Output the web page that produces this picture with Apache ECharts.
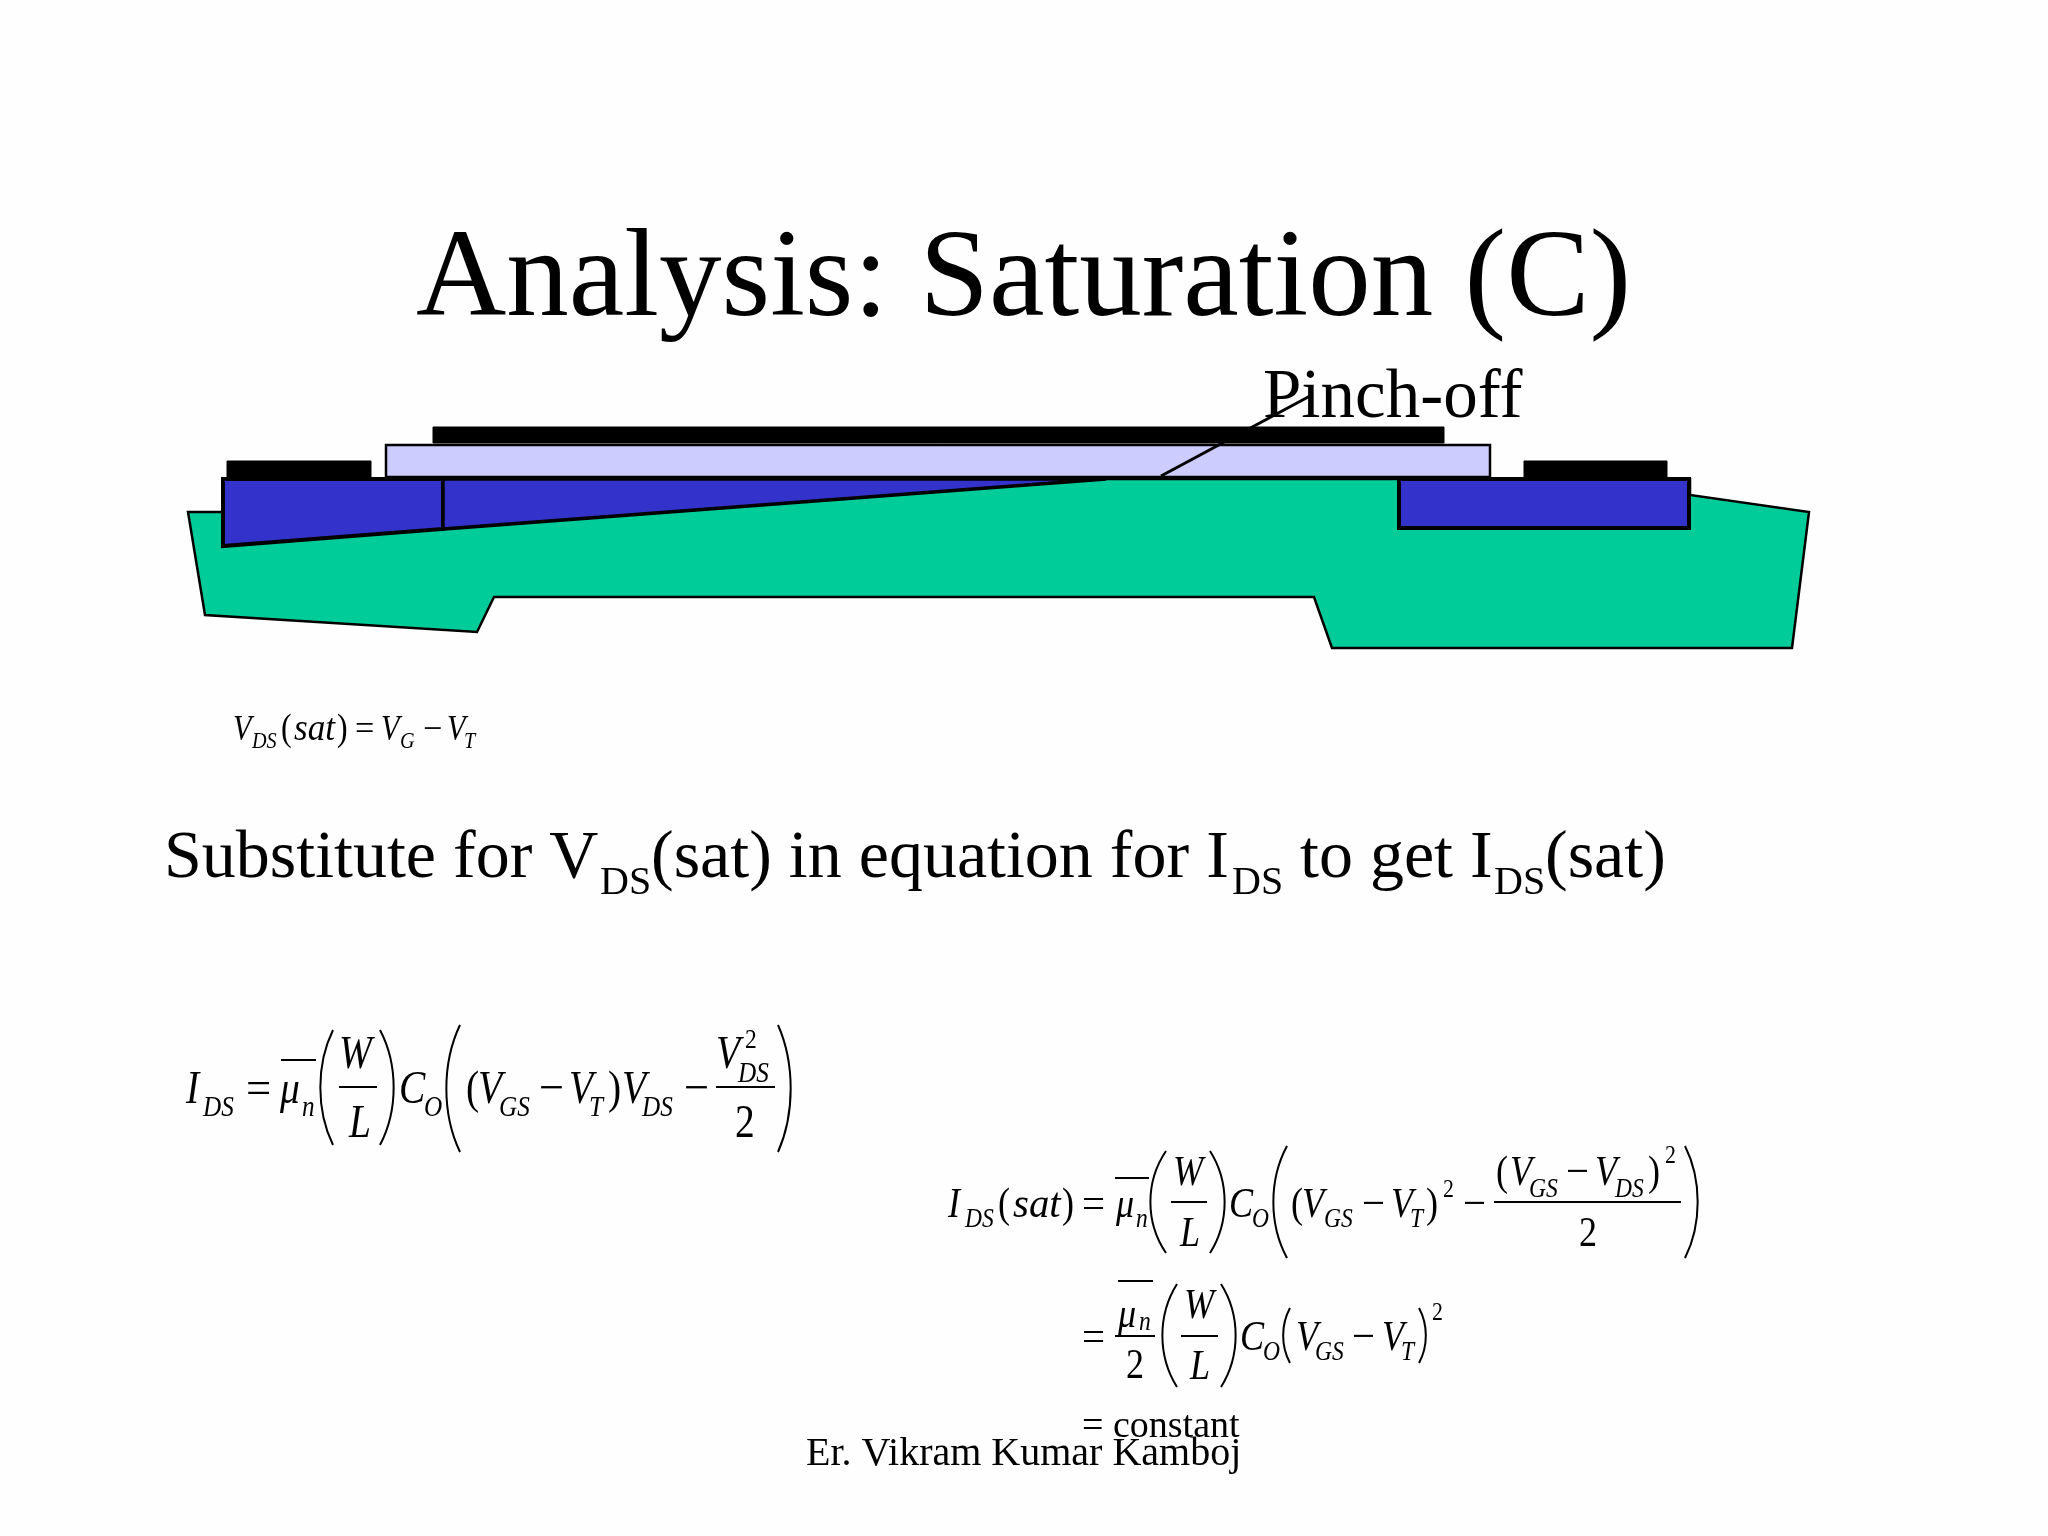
<!DOCTYPE html>
<html lang="en">
<head>
<meta charset="UTF-8">
<title>Analysis: Saturation (C)</title>
<style>
    * { margin: 0; padding: 0; }
    html, body { background: #fefefe; }
    #main { width: 2048px; height: 1536px; }
</style>
</head>
<body>
<div id="main"></div>
<script src="https://cdn.jsdelivr.net/npm/echarts@6/dist/echarts.min.js"></script>
<script>
// diagram outlines (axes run in picture pixels)
var substrate = [[188,512],[205,615],[477,632],[494,597],[1314,597],[1332,648],[1792,648],[1809,512],[1690,495],[1690,479],[443,479],[223,512]];
var sourceWell = [[223,479],[443,479],[443,529],[223,546]];
var channel = [[443,479],[1106,479],[443,529]];
var drainWell = [[1399,479],[1689,479],[1689,528],[1399,528]];
var oxide = [[386,445],[1490,445],[1490,477],[386,477]];
var gate = [[433,427],[1444,427],[1444,443],[433,443]];
var sourceContact = [[227,461],[371,461],[371,478],[227,478]];
var drainContact = [[1524,461],[1667,461],[1667,478],[1524,478]];
var pinchLeader = [[1161,476],[1310,396]];

// fraction bars and overlines: [x0, x1, y]
var rules = [
    [281,316,1060],[339,377,1087],[716,775,1087],
    [1115,1149,1178],[1171,1207,1202],[1494,1681,1202],
    [1118,1153,1281],[1115,1155,1336],[1181,1218,1336]
];
// brackets: [tipX, bellyX, y0, y1]
var brackets = [
    [333,320,1030,1145],[380,394,1030,1145],[460,446,1025,1152],[778,791,1025,1152],
    [1166,1150,1151,1253],[1210,1225,1151,1253],[1287,1273,1146,1258],[1685,1698,1146,1258],
    [1177,1162,1284,1387],[1221,1236,1284,1387],[1290,1283,1308,1363],[1419,1426,1308,1363]
];

// text runs: [string, x, baseline, size, italic, squeeze]
var EQ = 0.84, OP = 0.95;
var slideText = [
    ["Analysis: Saturation (C)",416,315,125,0,1],
    ["Pinch-off",1263,417,69,0,1],
    ["Substitute for V",164,877,68,0,1],["DS",600,894,40,0,1],
    ["(sat) in equation for I",651,877,68,0,1],["DS",1232,894,40,0,1],
    [" to get I",1283,877,68,0,1],["DS",1494,894,40,0,1],["(sat)",1545,877,68,0,1],
    ["= constant",1082,1437,38,0,1],
    ["Er. Vikram Kumar Kamboj",806,1465,40,0,1]
];
var formulaSat = [
    ["V",233,740,36,1,EQ],["DS",252,748,24,1,EQ],["(",281,740,38,0,EQ],["sat",294,740,37,1,0.95],[")",337,740,38,0,EQ],
    ["=",355,740,36,0,OP],["V",381,740,36,1,EQ],["G",400,748,24,1,EQ],["\u2212",423,740,36,0,OP],["V",447,740,36,1,EQ],["T",464,748,24,1,EQ]
];
var formulaIds = [
    ["I",186,1103,47,1,EQ],["DS",203,1116,30,1,EQ],["=",246,1103,47,0,OP],["\u03bc",280,1103,47,1,EQ],["n",302,1116,30,1,EQ],
    ["W",339,1068,47,1,EQ],["L",349,1137,47,1,EQ],["C",399,1103,47,1,EQ],["O",424,1116,30,1,EQ],
    ["(",466,1103,47,0,EQ],["V",478,1103,47,1,EQ],["GS",499,1116,30,1,EQ],["\u2212",539,1103,47,0,OP],
    ["V",569,1103,47,1,EQ],["T",589,1116,30,1,EQ],[")",608,1103,47,0,EQ],["V",622,1103,47,1,EQ],["DS",642,1116,30,1,EQ],["\u2212",684,1103,47,0,OP],
    ["V",716,1068,47,1,EQ],["2",745,1048,28,0,EQ],["DS",738,1082,30,1,EQ],["2",735,1137,47,0,EQ]
];
var formulaIdsSat = [
    ["I",948,1217,43,1,EQ],["DS",965,1227,28,1,EQ],["(",998,1217,43,0,EQ],["sat",1013,1217,43,1,0.95],[")",1062,1217,43,0,EQ],
    ["=",1082,1217,43,0,OP],["\u03bc",1116,1217,43,1,EQ],["n",1136,1227,28,1,EQ],
    ["W",1173,1185,43,1,EQ],["L",1180,1246,43,1,EQ],["C",1229,1217,43,1,EQ],["O",1252,1227,28,1,EQ],
    ["(",1291,1217,43,0,EQ],["V",1302,1217,43,1,EQ],["GS",1324,1227,28,1,EQ],["\u2212",1362,1217,43,0,OP],
    ["V",1391,1217,43,1,EQ],["T",1410,1227,28,1,EQ],[")",1426,1217,43,0,EQ],["2",1443,1197,26,0,EQ],["\u2212",1463,1217,43,0,OP],
    ["(",1496,1185,43,0,EQ],["V",1510,1185,43,1,EQ],["GS",1529,1197,28,1,EQ],["\u2212",1566,1185,43,0,OP],
    ["V",1595,1185,43,1,EQ],["DS",1615,1197,28,1,EQ],[")",1648,1185,43,0,EQ],["2",1665,1163,26,0,EQ],["2",1579,1246,43,0,EQ]
];
var formulaIdsSat2 = [
    ["=",1082,1350,43,0,OP],["\u03bc",1118,1327,43,1,EQ],["n",1139,1330,28,1,EQ],["2",1126,1378,43,0,EQ],
    ["W",1184,1318,43,1,EQ],["L",1190,1379,43,1,EQ],["C",1240,1350,43,1,EQ],["O",1263,1360,28,1,EQ],
    ["V",1296,1350,43,1,EQ],["GS",1315,1360,28,1,EQ],["\u2212",1352,1350,43,0,OP],["V",1382,1350,43,1,EQ],["T",1401,1360,28,1,EQ],["2",1432,1320,26,0,EQ]
];
var allText = slideText.concat(formulaSat, formulaIds, formulaIdsSat, formulaIdsSat2);

var GREEN = '#00cc99', BLUE = '#3333cc', LILAC = '#ccccff', INK = '#000000';

// one closed outline drawn through the hidden axes
function outline(points, fill, lineWidth) {
    return {
        type: 'custom',
        coordinateSystem: 'cartesian2d',
        data: points,
        silent: true,
        animation: false,
        renderItem: function (params, api) {
            if (params.dataIndex !== 0) return;
            return {
                type: 'polygon',
                shape: { points: points.map(function (p) { return api.coord(p); }) },
                style: { fill: fill, stroke: INK, lineWidth: lineWidth, lineJoin: 'miter' }
            };
        }
    };
}

var ruleSeries = {
    type: 'custom',
    coordinateSystem: 'cartesian2d',
    data: rules,
    encode: { x: [0, 1], y: 2 },
    silent: true,
    animation: false,
    renderItem: function (params, api) {
        var a = api.coord([api.value(0), api.value(2)]);
        var b = api.coord([api.value(1), api.value(2)]);
        return {
            type: 'line',
            shape: { x1: a[0], y1: a[1], x2: b[0], y2: b[1] },
            style: { stroke: INK, lineWidth: 1.8 }
        };
    }
};

var bracketSeries = {
    type: 'custom',
    coordinateSystem: 'cartesian2d',
    data: brackets,
    encode: { x: [0, 1], y: [2, 3] },
    silent: true,
    animation: false,
    renderItem: function (params, api) {
        var tip = api.value(0), belly = api.value(1), y0 = api.value(2), y1 = api.value(3);
        var h = y1 - y0;
        var s = api.coord([tip, y0]);
        var e = api.coord([tip, y1]);
        var c1 = api.coord([belly - (tip - belly) * 0.3, y0 + h * 0.3]);
        var c2 = api.coord([belly - (tip - belly) * 0.3, y0 + h * 0.7]);
        return {
            type: 'bezierCurve',
            shape: { x1: s[0], y1: s[1], x2: e[0], y2: e[1], cpx1: c1[0], cpy1: c1[1], cpx2: c2[0], cpy2: c2[1] },
            style: { fill: null, stroke: INK, lineWidth: 2 }
        };
    }
};

var textSeries = {
    type: 'custom',
    coordinateSystem: 'cartesian2d',
    data: allText.map(function (t, i) { return [t[1], t[2], i]; }),
    silent: true,
    animation: false,
    renderItem: function (params, api) {
        var t = allText[api.value(2)];
        var size = t[3];
        // text is placed by its middle, the list holds baselines
        var p = api.coord([t[1], t[2] - size * 0.265]);
        return {
            type: 'text',
            x: p[0],
            y: p[1],
            scaleX: t[5],
            style: {
                x: 0,
                y: 0,
                text: t[0],
                fill: INK,
                font: (t[4] ? 'italic ' : '') + size + 'px "Liberation Serif"',
                align: 'left',
                verticalAlign: 'middle'
            }
        };
    }
};

var leaderSeries = {
    type: 'line',
    data: pinchLeader,
    symbol: 'none',
    silent: true,
    animation: false,
    lineStyle: { color: INK, width: 3 }
};

var chart = echarts.init(document.getElementById('main'));
chart.setOption({
    backgroundColor: '#fefefe',
    animation: false,
    grid: { left: 0, right: 0, top: 0, bottom: 0 },
    xAxis: { type: 'value', min: 0, max: 2048, show: false },
    yAxis: { type: 'value', min: 0, max: 1536, inverse: true, show: false },
    series: [
        outline(substrate, GREEN, 2.5),
        outline(sourceWell, BLUE, 4),
        outline(channel, BLUE, 3.5),
        outline(drainWell, BLUE, 4),
        outline(oxide, LILAC, 2.5),
        outline(gate, INK, 1),
        outline(sourceContact, INK, 1),
        outline(drainContact, INK, 1),
        leaderSeries,
        ruleSeries,
        bracketSeries,
        textSeries
    ]
});
</script>
</body>
</html>
